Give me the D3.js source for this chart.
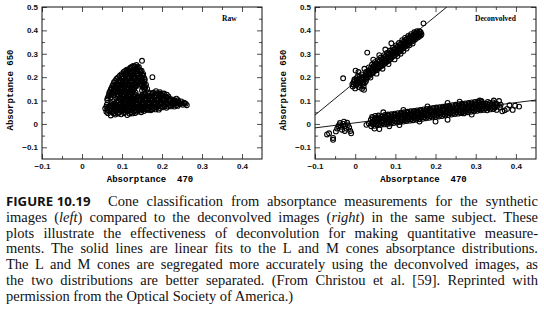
<!DOCTYPE html>
<html>
<head>
<meta charset="utf-8">
<script src="https://cdn.jsdelivr.net/npm/d3@7"></script>
<style>
  body { margin: 0; background: #fff; }
  svg { display: block; }
</style>
</head>
<body>
<svg id="fig" width="544" height="318"></svg>
<script>
// axis ticks
const xTicks = [-0.1, 0, 0.1, 0.2, 0.3, 0.4];
const xTickLabels = ["\u22120.1", "0", "0.1", "0.2", "0.3", "0.4"];
const xMinor = [-0.05, 0.05, 0.15, 0.25, 0.35];
const yTicks = [-0.1, 0, 0.1, 0.2, 0.3, 0.4, 0.5];
const yTickLabels = ["\u22120.1", "0", "0.1", "0.2", "0.3", "0.4", "0.5"];
const yMinor = [-0.05, 0.05, 0.15, 0.25, 0.35, 0.45];

// raw images: L cones (upper blob)
const rawL = [
  [.128,.248],[.136,.252],[.142,.244],[.121,.240],[.150,.270],[.176,.200],
  [.124,.244],[.132,.246],[.139,.241],
  [.112,.232],[.119,.236],[.127,.231],[.135,.238],[.143,.233],[.149,.228],
  [.108,.226],[.115,.229],[.123,.227],[.130,.229],[.138,.226],[.146,.225],
  [.104,.222],[.111,.219],[.118,.224],[.126,.218],[.133,.223],[.140,.217],[.147,.221],[.153,.214],
  [.099,.213],[.107,.215],[.114,.212],[.121,.214],[.129,.211],[.136,.214],[.143,.210],[.150,.212],
  [.095,.207],[.102,.203],[.109,.209],[.116,.204],[.124,.206],[.131,.201],[.138,.208],[.145,.203],[.152,.206],
  [.090,.199],[.098,.201],[.105,.198],[.112,.200],[.120,.197],[.127,.199],[.134,.196],[.141,.198],[.148,.196],[.155,.198],
  [.086,.192],[.093,.188],[.100,.194],[.108,.189],[.115,.193],[.122,.187],[.130,.192],[.137,.188],[.144,.191],[.151,.186],[.157,.190],
  [.083,.184],[.090,.182],[.097,.185],[.104,.182],[.112,.184],[.119,.181],[.126,.184],[.134,.181],[.141,.183],[.148,.180],[.156,.182],
  [.080,.178],[.087,.173],[.094,.177],[.101,.172],[.109,.176],[.116,.171],[.123,.177],[.131,.173],[.138,.176],[.146,.171],[.154,.175],[.160,.168],
  [.078,.169],[.085,.166],[.092,.169],[.099,.165],[.106,.168],[.114,.165],[.121,.169],[.128,.165],[.136,.167],[.143,.164],[.150,.166],[.157,.163],
  [.076,.162],[.083,.158],[.090,.163],[.097,.157],[.105,.161],[.112,.156],[.119,.162],[.127,.157],[.134,.160],[.152,.158],[.158,.155],
  [.074,.154],[.081,.151],[.088,.154],[.095,.150],[.102,.153],[.110,.150],[.117,.154],[.124,.150],[.131,.153],[.156,.148],
  [.072,.147],[.079,.143],[.086,.148],[.093,.142],[.100,.146],[.108,.141],[.115,.147],[.122,.142],[.129,.146],[.150,.143],[.163,.150],
  [.070,.139],[.077,.136],[.084,.140],[.091,.135],[.098,.138],[.106,.134],[.113,.139],[.120,.135],[.127,.138],[.134,.134],
  [.068,.132],[.075,.128],[.082,.133],[.089,.127],[.096,.131],[.104,.126],[.111,.132],[.118,.127],[.125,.131],[.132,.126],[.156,.137],
  [.068,.124],[.079,.122],[.086,.121],[.093,.124],[.100,.120],[.107,.124],[.114,.120],[.121,.124],[.128,.120],[.135,.123],
  [.066,.117],[.072,.113],[.090,.116],[.097,.112],[.104,.118],[.111,.113],[.118,.117],[.125,.112],[.132,.118],
  [.064,.110],[.094,.108],[.101,.110],[.108,.106],[.115,.110],[.122,.106],[.129,.109],
  [.063,.103],[.091,.100],[.098,.104],[.105,.099],[.112,.103],[.119,.098],[.126,.102]
];
// raw images: M cones (lower band)
const rawM = [
  [.072,.036],[.083,.040],[.098,.041],[.113,.038],[.126,.045],
  [.065,.046],[.079,.045],[.090,.044],[.105,.046],[.119,.044],[.133,.047],[.148,.050],
  [.061,.052],[.068,.056],[.076,.050],[.084,.054],[.091,.049],[.099,.055],[.106,.051],[.114,.056],[.122,.050],[.130,.054],[.138,.052],[.146,.057],[.155,.055],[.163,.060],[.172,.058],
  [.064,.060],[.072,.058],[.080,.061],[.087,.057],[.095,.062],[.103,.058],[.110,.061],[.118,.057],[.126,.061],[.134,.059],[.142,.062],[.151,.060],[.159,.063],[.167,.061],[.176,.063],[.184,.062],[.192,.061],
  [.058,.066],[.065,.070],[.073,.064],[.080,.068],[.088,.063],[.095,.069],[.103,.065],[.110,.070],[.118,.064],[.125,.069],[.133,.066],[.140,.071],[.148,.065],[.156,.070],[.163,.066],[.171,.071],[.179,.067],[.187,.072],[.195,.068],[.203,.071],[.211,.069],
  [.061,.074],[.069,.075],[.077,.072],[.084,.074],[.092,.071],[.099,.075],[.107,.072],[.114,.075],[.122,.072],[.129,.076],[.137,.073],[.144,.075],[.152,.072],[.160,.076],[.167,.073],[.175,.075],[.183,.073],[.191,.076],[.199,.073],[.207,.076],[.215,.074],[.223,.075],[.231,.074],[.239,.077],
  [.062,.082],[.070,.078],[.077,.083],[.085,.079],[.093,.084],[.100,.078],[.108,.083],[.115,.079],[.123,.084],[.130,.080],[.138,.085],[.145,.079],[.153,.084],[.160,.080],[.168,.085],[.175,.079],[.183,.084],[.190,.080],[.198,.085],[.205,.081],[.213,.084],[.220,.079],[.228,.083],[.236,.080],[.244,.085],[.252,.082],[.259,.086],[.262,.080],
  [.074,.089],[.081,.088],[.089,.090],[.096,.087],[.104,.089],[.111,.087],[.119,.090],[.126,.087],[.134,.090],[.141,.087],[.149,.090],[.156,.087],[.164,.090],[.171,.087],[.179,.090],[.186,.087],[.194,.090],[.201,.087],[.209,.090],[.216,.087],[.224,.090],[.232,.088],[.240,.090],[.248,.088],[.256,.088],
  [.078,.097],[.086,.093],[.106,.094],[.113,.098],[.121,.093],[.128,.097],[.136,.092],[.143,.098],[.151,.094],[.158,.099],[.166,.093],[.173,.098],[.181,.094],[.188,.099],[.196,.093],[.203,.098],[.211,.094],[.218,.099],[.226,.093],[.233,.097],[.241,.094],[.248,.096],[.255,.091],
  [.110,.104],[.117,.102],[.125,.105],[.132,.102],[.140,.104],[.147,.102],[.155,.105],[.162,.102],[.170,.105],[.177,.102],[.185,.105],[.192,.102],[.200,.105],[.207,.102],[.215,.104],[.222,.101],[.230,.099],[.240,.101],
  [.138,.112],[.146,.108],[.153,.113],[.161,.109],[.168,.114],[.176,.110],[.183,.113],[.191,.109],[.198,.114],[.206,.110],[.213,.112],[.221,.107],[.229,.104],[.236,.108],
  [.142,.118],[.150,.116],[.157,.119],[.164,.116],[.172,.119],[.180,.117],[.187,.119],[.195,.117],[.202,.119],[.209,.117],[.216,.118],
  [.150,.122],[.158,.126],[.166,.121],[.175,.127],[.183,.123],[.190,.128],[.198,.124],[.205,.130],[.212,.125],[.195,.136],[.185,.140],[.165,.135],
  [.170,.131],[.178,.133],[.187,.131],[.194,.130],[.201,.127]
];

// deconvolved images: L cones
const decL = [
  [-.030,.195],
  [-.006,.160],[-.004,.178],[-.002,.190],[-.007,.170],[.000,.152],
  [.002,.165],[.004,.180],[.003,.196],[.001,.228],[.006,.172],
  [.009,.158],[.011,.176],[.010,.190],[.012,.204],[.008,.222],[.013,.166],
  [.017,.150],[.019,.172],[.018,.188],[.020,.200],[.016,.212],[.021,.160],
  [.024,.176],[.026,.192],[.025,.208],[.027,.222],[.023,.236],[.022,.146],
  [.031,.200],[.033,.214],[.032,.228],[.034,.242],[.030,.305],
  [.039,.212],[.041,.226],[.040,.240],[.042,.254],[.038,.198],
  [.046,.222],[.048,.236],[.047,.250],[.049,.264],[.045,.275],
  [.054,.230],[.056,.244],[.055,.258],[.057,.272],[.053,.215],
  [.061,.242],[.063,.256],[.062,.270],[.064,.284],[.060,.294],
  [.069,.252],[.071,.266],[.070,.280],[.072,.294],[.068,.236],
  [.076,.262],[.078,.276],[.077,.290],[.079,.304],[.075,.318],
  [.084,.272],[.086,.286],[.085,.300],[.087,.314],[.083,.256],
  [.091,.284],[.093,.298],[.092,.312],[.094,.326],[.090,.345],
  [.099,.294],[.101,.308],[.100,.322],[.102,.336],[.098,.276],
  [.106,.304],[.108,.318],[.107,.332],[.109,.346],[.105,.290],
  [.114,.316],[.116,.330],[.115,.344],[.117,.358],[.113,.300],
  [.121,.326],[.123,.340],[.122,.354],[.124,.368],[.120,.312],
  [.129,.336],[.131,.350],[.130,.364],[.132,.376],[.128,.322],
  [.136,.348],[.138,.360],[.137,.372],[.139,.384],[.135,.336],
  [.144,.356],[.146,.368],[.145,.380],[.147,.392],[.143,.344],
  [.151,.364],[.153,.376],[.152,.388],[.154,.396],
  [.159,.374],[.161,.386],[.160,.396],[.165,.384],[.170,.430],
  [-.003,.168],[-.001,.184],[.005,.188],[.007,.206],[.012,.184],[.014,.196],[.020,.180],[.021,.193],
  [.027,.184],[.028,.200],[.029,.214],[.035,.206],[.036,.220],[.037,.234],[.043,.218],[.044,.232],
  [.045,.246],[.050,.228],[.051,.242],[.052,.256],[.058,.238],[.059,.252],[.060,.266],[.066,.248],
  [.067,.262],[.066,.276],[.073,.258],[.074,.272],[.074,.286],[.081,.268],[.082,.282],[.081,.296],
  [.088,.278],[.089,.292],[.089,.306],[.096,.290],[.097,.304],[.096,.318],[.103,.300],[.104,.314],
  [.104,.328],[.111,.310],[.112,.324],[.111,.338],[.118,.322],[.119,.336],[.119,.350],[.126,.332],
  [.127,.346],[.126,.360],[.133,.342],[.134,.356],[.134,.368],[.141,.352],[.142,.364],[.141,.376],
  [.148,.360],[.149,.374],[.149,.386],[.156,.370],[.157,.382],[.163,.378],[.163,.392]
];
// deconvolved images: M cones
const decM = [
  [-.040,-.005],[-.035,-.012],[-.030,.000],[-.025,-.008],[-.020,.005],[-.015,-.015],[-.012,-.030],
  [-.033,-.025],[-.045,-.020],[-.028,.010],[-.022,-.020],[-.018,-.005],[-.038,.004],[-.010,-.040],
  [-.026,-.030],[-.042,-.010],[-.065,-.040],[-.070,-.045],[-.055,-.060],[-.055,-.068],[-.048,-.032],
  [.028,-.004],[.034,.002],[.048,-.020],[.060,-.022],
  [.040,-.010],[.041,.004],[.039,.018],[.042,.030],
  [.048,-.008],[.047,.006],[.049,.020],[.050,.034],
  [.056,-.006],[.057,.010],[.055,.024],[.058,.036],
  [.064,-.004],[.065,.008],[.063,.022],[.066,.032],
  [.072,-.002],[.071,.012],[.073,.026],[.074,.038],
  [.080,.000],[.081,.014],[.079,.028],[.082,.040],
  [.088,.002],[.087,.016],[.089,.030],[.090,.042],
  [.096,.004],[.097,.018],[.095,.032],[.098,.044],
  [.104,.006],[.103,.020],[.105,.034],[.106,.046],
  [.112,.008],[.113,.022],[.111,.036],[.114,.048],
  [.120,.010],[.119,.024],[.121,.038],[.122,.050],
  [.128,.012],[.129,.026],[.127,.040],[.130,.052],
  [.136,.014],[.135,.028],[.137,.042],[.138,.054],
  [.144,.016],[.145,.030],[.143,.044],[.146,.056],
  [.152,.018],[.151,.032],[.153,.046],[.154,.058],
  [.160,.020],[.161,.034],[.159,.048],[.162,.060],
  [.168,.022],[.167,.036],[.169,.050],[.170,.062],
  [.176,.024],[.177,.038],[.175,.052],[.178,.064],
  [.184,.026],[.183,.040],[.185,.054],[.186,.066],
  [.192,.028],[.193,.042],[.191,.056],[.194,.068],
  [.200,.030],[.199,.044],[.201,.058],[.202,.070],
  [.208,.032],[.209,.046],[.207,.060],[.210,.072],
  [.216,.034],[.215,.048],[.217,.062],[.218,.074],
  [.224,.036],[.225,.050],[.223,.064],[.226,.076],
  [.232,.038],[.231,.052],[.233,.066],[.234,.078],
  [.240,.040],[.241,.054],[.239,.068],[.242,.080],
  [.248,.042],[.247,.056],[.249,.070],[.250,.082],
  [.256,.044],[.257,.058],[.255,.072],[.258,.084],
  [.264,.046],[.263,.060],[.265,.074],[.266,.086],
  [.272,.048],[.273,.062],[.271,.076],[.274,.088],
  [.280,.050],[.279,.064],[.281,.078],[.282,.090],
  [.288,.052],[.289,.066],[.287,.080],[.290,.092],
  [.296,.054],[.295,.068],[.297,.082],[.298,.094],
  [.304,.056],[.305,.070],[.303,.084],[.306,.096],
  [.312,.058],[.311,.072],[.313,.086],[.314,.098],
  [.320,.060],[.321,.074],[.319,.088],
  [.328,.058],[.329,.072],[.327,.086],[.330,.094],
  [.336,.062],[.337,.076],[.335,.090],
  [.344,.064],[.345,.078],[.343,.092],
  [.352,.060],[.353,.076],[.351,.088],
  [.360,.070],[.358,.098],[.362,.082],
  [.372,.058],[.378,.064],[.384,.080],[.392,.060],[.398,.078],[.408,.074],[.366,.054],
  [.085,-.010],[.110,-.005],[.160,.010],[.200,.010],[.230,.018],[.270,.045],[.290,.040],
  [.120,.060],[.070,.050],[.180,.075],[.230,.090],[.260,.095],[.310,.100],[.345,.100],
  [.044,-.003],[.044,.011],[.043,.025],[.052,-.001],[.052,.013],[.051,.027],
  [.060,.001],[.060,.015],[.059,.028],[.068,.003],[.068,.017],[.067,.031],
  [.076,.005],[.076,.019],[.075,.033],[.084,.007],[.084,.021],[.083,.035],
  [.092,.009],[.092,.023],[.091,.037],[.100,.011],[.100,.025],[.099,.039],
  [.108,.013],[.108,.027],[.107,.041],[.116,.015],[.116,.029],[.115,.043],
  [.124,.017],[.124,.031],[.123,.045],[.132,.019],[.132,.033],[.131,.047],
  [.140,.021],[.140,.035],[.139,.049],[.148,.023],[.148,.037],[.147,.051],
  [.156,.025],[.156,.039],[.155,.053],[.164,.027],[.164,.041],[.163,.055],
  [.172,.029],[.172,.043],[.171,.057],[.180,.031],[.180,.045],[.179,.059],
  [.188,.033],[.188,.047],[.187,.061],[.196,.035],[.196,.049],[.195,.063],
  [.204,.037],[.204,.051],[.203,.065],[.212,.039],[.212,.053],[.211,.067],
  [.220,.041],[.220,.055],[.219,.069],[.228,.043],[.228,.057],[.227,.071],
  [.236,.045],[.236,.059],[.235,.073],[.244,.047],[.244,.061],[.243,.075],
  [.252,.049],[.252,.063],[.251,.077],[.260,.051],[.260,.065],[.259,.079],
  [.268,.053],[.268,.067],[.267,.081],[.276,.055],[.276,.069],[.275,.083],
  [.284,.057],[.284,.071],[.283,.085],[.292,.059],[.292,.073],[.291,.087],
  [.300,.061],[.300,.075],[.299,.089],[.308,.063],[.308,.077],[.307,.091],
  [.316,.065],[.316,.079],[.315,.093],[.324,.066],[.324,.080],
  [.332,.068],[.332,.082],[.340,.069],[.340,.084],[.348,.070],[.348,.085]
];

// linear fits (end points) for the deconvolved panel
const fitL = [[-0.1, 0.038], [0.228, 0.5]];
const fitM = [[-0.1, -0.017], [0.45, 0.102]];

const captionLines = [
  "Cone classification from absorptance measurements for the synthetic",
  "images (|left|) compared to the deconvolved images (|right|) in the same subject. These",
  "plots illustrate the effectiveness of deconvolution for making quantitative measure-",
  "ments. The solid lines are linear fits to the L and M cones absorptance distributions.",
  "The L and M cones are segregated more accurately using the deconvolved images, as",
  "the two distributions are better separated. (From Christou et al. [59]. Reprinted with",
  "permission from the Optical Society of America.)"
];

const svg = d3.select('#fig');
const plotTop = 7, plotBottom = 159;

function panel(x0, x1, clipId, sets, label, labelX, fits) {
  const x = d3.scaleLinear().domain([-0.1, 0.45]).range([x0, x1]);
  const y = d3.scaleLinear().domain([-0.15, 0.5]).range([plotBottom, plotTop]);
  const g = svg.append('g');

  g.append('clipPath').attr('id', clipId)
    .append('rect').attr('x', x0).attr('y', plotTop).attr('width', x1 - x0).attr('height', plotBottom - plotTop);

  // major + minor ticks, all four sides, pointing inward
  const mk = (axis, scale, vals, size, tr, labels) => {
    const a = axis(scale).tickValues(vals).tickSizeInner(-size).tickSizeOuter(0).tickPadding(4);
    a.tickFormat(labels ? (d, i) => labels[i] : () => '');
    const s = g.append('g').attr('transform', tr).call(a);
    s.select('.domain').remove();
    s.selectAll('line').attr('stroke', '#222').attr('stroke-width', 0.8);
    s.selectAll('text').attr('font-family', 'Liberation Sans, Arial, sans-serif')
      .attr('font-size', 8).attr('font-weight', 'bold').attr('fill', '#111');
    return s;
  };
  mk(d3.axisBottom, x, xTicks, 5, `translate(0,${plotBottom})`, xTickLabels);
  mk(d3.axisBottom, x, xMinor, 3, `translate(0,${plotBottom})`);
  mk(d3.axisTop, x, xTicks, 5, `translate(0,${plotTop})`);
  mk(d3.axisTop, x, xMinor, 3, `translate(0,${plotTop})`);
  mk(d3.axisLeft, y, yTicks, 5, `translate(${x0},0)`, yTickLabels);
  mk(d3.axisLeft, y, yMinor, 3, `translate(${x0},0)`);
  mk(d3.axisRight, y, yTicks, 5, `translate(${x1},0)`);
  mk(d3.axisRight, y, yMinor, 3, `translate(${x1},0)`);

  g.append('rect')
    .attr('x', x0).attr('y', plotTop).attr('width', x1 - x0).attr('height', plotBottom - plotTop)
    .attr('fill', 'none').attr('stroke', '#111').attr('stroke-width', 1);

  const plot = g.append('g').attr('clip-path', `url(#${clipId})`);
  sets.forEach(pts => {
    plot.selectAll(null).data(pts).enter().append('circle')
      .attr('cx', d => x(d[0])).attr('cy', d => y(d[1])).attr('r', 2.4)
      .attr('fill', 'none').attr('stroke', '#000').attr('stroke-width', 1.1);
  });
  const line = d3.line().x(d => x(d[0])).y(d => y(d[1]));
  fits.forEach(f => {
    plot.append('path').attr('d', line(f)).attr('fill', 'none')
      .attr('stroke', '#000').attr('stroke-width', 0.9);
  });

  g.append('text').attr('x', labelX).attr('y', 21)
    .attr('font-family', 'Liberation Serif, Times New Roman, serif')
    .attr('font-size', 7.5).attr('font-weight', 'bold').text(label);

  g.append('text')
    .attr('x', (x0 + x1) / 2 - 2).attr('y', 182).attr('text-anchor', 'middle')
    .attr('font-family', 'Liberation Mono, Courier New, monospace')
    .attr('font-size', 9).attr('font-weight', 'bold').attr('xml:space', 'preserve')
    .text('Absorptance  470');

  g.append('text')
    .attr('transform', `translate(${x0 - 29},${(plotTop + plotBottom) / 2 + 7}) rotate(-90)`)
    .attr('text-anchor', 'middle')
    .attr('font-family', 'Liberation Mono, Courier New, monospace')
    .attr('font-size', 9).attr('font-weight', 'bold')
    .text('Absorptance 650');
}

panel(42, 262, 'clipRaw', [rawL, rawM], 'Raw', 222, []);
panel(315, 536, 'clipDec', [decL, decM], 'Deconvolved', 475, [fitL, fitM]);

// caption
const capLeft = 6, capRight = 538, base0 = 206, lead = 15.8;
svg.append('text').attr('x', capLeft).attr('y', base0)
  .attr('font-family', 'Open Sans, Lato, sans-serif').attr('font-weight', 'bold')
  .attr('font-size', 13.2).attr('fill', '#111').text('FIGURE 10.19');

captionLines.forEach((ln, i) => {
  const startX = i === 0 ? 108 : capLeft;
  const t = svg.append('text').attr('x', startX).attr('y', base0 + i * lead)
    .attr('font-family', 'Liberation Serif, Times New Roman, serif')
    .attr('font-size', 14.5).attr('fill', '#111');
  ln.split('|').forEach((part, k) => {
    t.append('tspan').attr('font-style', k % 2 ? 'italic' : 'normal').text(part);
  });
  if (i < captionLines.length - 1) {
    const w = t.node().getComputedTextLength();
    const spaces = (ln.match(/ /g) || []).length;
    const ws = (capRight - startX - w) / spaces;
    t.attr('word-spacing', ws);
  }
});
</script>
</body>
</html>
